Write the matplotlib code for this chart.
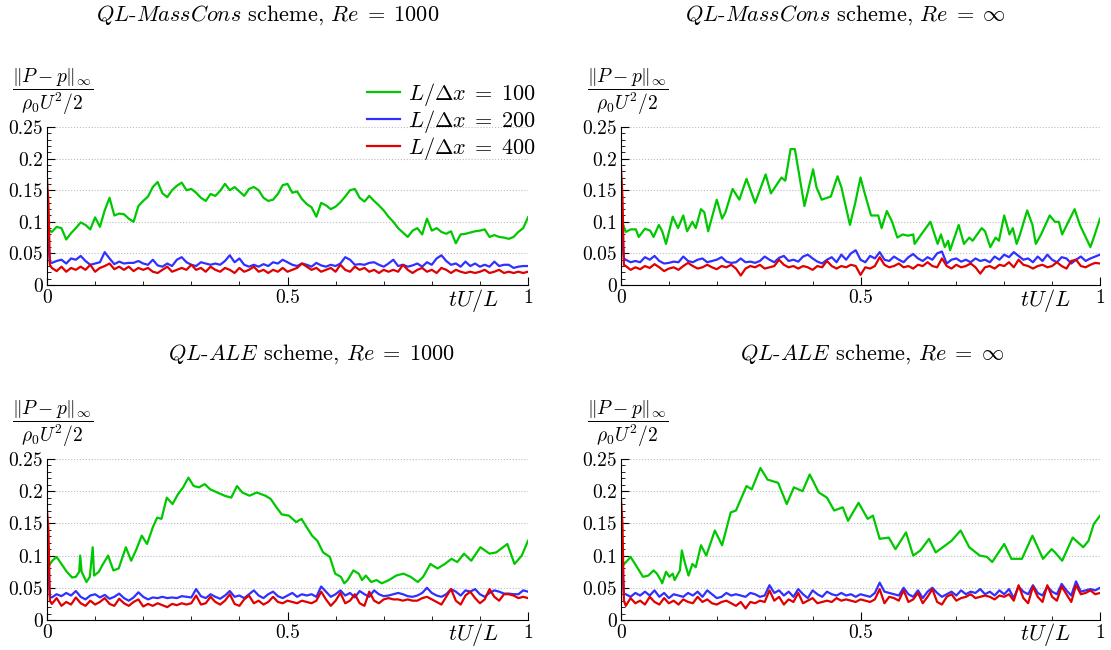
import matplotlib
matplotlib.use("Agg")
import matplotlib.pyplot as plt
from matplotlib.ticker import MultipleLocator, FixedLocator, FixedFormatter

plt.rcParams['mathtext.fontset'] = 'cm'
plt.rcParams['font.family'] = 'serif'
plt.rcParams['font.serif'] = ['cmr10', 'DejaVu Serif']
plt.rcParams['axes.unicode_minus'] = False
plt.rcParams['axes.formatter.use_mathtext'] = True

# sampling grid used for the fine (blue / red) traces, plus the start-up spike
t_start = [0.0, 0.003, 0.006]
t_grid = [0.01, 0.02, 0.03, 0.04, 0.05, 0.06, 0.07, 0.08, 0.09, 0.10,
          0.11, 0.12, 0.13, 0.14, 0.15, 0.16, 0.17, 0.18, 0.19, 0.20,
          0.21, 0.22, 0.23, 0.24, 0.25, 0.26, 0.27, 0.28, 0.29, 0.30,
          0.31, 0.32, 0.33, 0.34, 0.35, 0.36, 0.37, 0.38, 0.39, 0.40,
          0.41, 0.42, 0.43, 0.44, 0.45, 0.46, 0.47, 0.48, 0.49, 0.50,
          0.51, 0.52, 0.53, 0.54, 0.55, 0.56, 0.57, 0.58, 0.59, 0.60,
          0.61, 0.62, 0.63, 0.64, 0.65, 0.66, 0.67, 0.68, 0.69, 0.70,
          0.71, 0.72, 0.73, 0.74, 0.75, 0.76, 0.77, 0.78, 0.79, 0.80,
          0.81, 0.82, 0.83, 0.84, 0.85, 0.86, 0.87, 0.88, 0.89, 0.90,
          0.91, 0.92, 0.93, 0.94, 0.95, 0.96, 0.97, 0.98, 0.99, 1.00]

# ---- QL-MassCons, Re = 1000 ----
green_tl_start = [0.100, 0.088, 0.086]
green_tl = [0.084, 0.092, 0.090, 0.072, 0.082, 0.090, 0.099, 0.095, 0.088, 0.107,
            0.092, 0.118, 0.138, 0.110, 0.113, 0.112, 0.105, 0.100, 0.125, 0.133,
            0.140, 0.155, 0.163, 0.145, 0.139, 0.150, 0.157, 0.162, 0.150, 0.152,
            0.146, 0.138, 0.133, 0.144, 0.141, 0.149, 0.160, 0.150, 0.155, 0.148,
            0.141, 0.152, 0.155, 0.150, 0.138, 0.133, 0.135, 0.144, 0.158, 0.160,
            0.146, 0.148, 0.136, 0.128, 0.123, 0.108, 0.130, 0.126, 0.120, 0.124,
            0.131, 0.140, 0.150, 0.152, 0.138, 0.132, 0.141, 0.133, 0.126, 0.118,
            0.108, 0.100, 0.090, 0.083, 0.076, 0.086, 0.090, 0.080, 0.105, 0.086,
            0.090, 0.084, 0.081, 0.085, 0.066, 0.080, 0.081, 0.083, 0.085, 0.086,
            0.088, 0.076, 0.079, 0.076, 0.075, 0.073, 0.076, 0.084, 0.090, 0.107]
blue_tl_start = [0.090, 0.060, 0.036]
blue_tl = [0.035, 0.038, 0.040, 0.034, 0.042, 0.040, 0.046, 0.038, 0.032, 0.034,
           0.036, 0.052, 0.042, 0.033, 0.037, 0.034, 0.035, 0.035, 0.038, 0.034,
           0.032, 0.040, 0.031, 0.029, 0.034, 0.030, 0.040, 0.044, 0.036, 0.032,
           0.030, 0.036, 0.034, 0.032, 0.034, 0.032, 0.038, 0.047, 0.036, 0.042,
           0.032, 0.029, 0.032, 0.029, 0.033, 0.030, 0.036, 0.034, 0.040, 0.036,
           0.032, 0.030, 0.034, 0.032, 0.029, 0.035, 0.031, 0.029, 0.032, 0.030,
           0.034, 0.044, 0.040, 0.032, 0.033, 0.032, 0.035, 0.036, 0.032, 0.029,
           0.034, 0.040, 0.030, 0.032, 0.029, 0.031, 0.034, 0.029, 0.036, 0.032,
           0.042, 0.047, 0.038, 0.032, 0.034, 0.029, 0.037, 0.030, 0.034, 0.029,
           0.032, 0.029, 0.037, 0.030, 0.032, 0.032, 0.027, 0.029, 0.030, 0.030]
red_tl_start = [0.168, 0.130, 0.032]
red_tl = [0.027, 0.022, 0.029, 0.021, 0.027, 0.024, 0.029, 0.024, 0.032, 0.021,
          0.027, 0.030, 0.034, 0.025, 0.029, 0.024, 0.029, 0.022, 0.027, 0.024,
          0.027, 0.021, 0.019, 0.024, 0.029, 0.021, 0.024, 0.027, 0.024, 0.032,
          0.024, 0.027, 0.021, 0.029, 0.024, 0.021, 0.027, 0.024, 0.019, 0.027,
          0.021, 0.024, 0.029, 0.021, 0.024, 0.019, 0.024, 0.021, 0.027, 0.021,
          0.024, 0.027, 0.034, 0.029, 0.024, 0.027, 0.021, 0.024, 0.027, 0.021,
          0.032, 0.024, 0.021, 0.029, 0.024, 0.027, 0.021, 0.024, 0.019, 0.024,
          0.021, 0.024, 0.021, 0.032, 0.024, 0.019, 0.024, 0.027, 0.021, 0.024,
          0.019, 0.027, 0.024, 0.019, 0.024, 0.021, 0.019, 0.021, 0.019, 0.021,
          0.024, 0.019, 0.021, 0.024, 0.019, 0.021, 0.019, 0.021, 0.019, 0.021]

# ---- QL-MassCons, Re = inf ----
green_tr = [(0.000, 0.100), (0.002, 0.100), (0.010, 0.084), (0.020, 0.088), (0.031, 0.088),
            (0.037, 0.076), (0.050, 0.089), (0.061, 0.086), (0.068, 0.076), (0.079, 0.095),
            (0.086, 0.085), (0.094, 0.065), (0.108, 0.108), (0.119, 0.090), (0.130, 0.110),
            (0.138, 0.085), (0.149, 0.100), (0.156, 0.090), (0.167, 0.120), (0.174, 0.115),
            (0.182, 0.085), (0.200, 0.135), (0.211, 0.105), (0.218, 0.115), (0.233, 0.152),
            (0.247, 0.135), (0.262, 0.168), (0.280, 0.130), (0.302, 0.175), (0.313, 0.145),
            (0.335, 0.170), (0.343, 0.165), (0.354, 0.215), (0.363, 0.215), (0.383, 0.125),
            (0.401, 0.183), (0.408, 0.155), (0.419, 0.135), (0.438, 0.140), (0.452, 0.172),
            (0.460, 0.155), (0.478, 0.095), (0.489, 0.130), (0.500, 0.170), (0.507, 0.150),
            (0.522, 0.110), (0.537, 0.110), (0.544, 0.090), (0.555, 0.117), (0.566, 0.100),
            (0.577, 0.075), (0.588, 0.080), (0.599, 0.078), (0.610, 0.080), (0.613, 0.065),
            (0.624, 0.077), (0.646, 0.100), (0.661, 0.065), (0.668, 0.080), (0.676, 0.060),
            (0.683, 0.070), (0.687, 0.055), (0.705, 0.095), (0.716, 0.065), (0.727, 0.075),
            (0.734, 0.070), (0.753, 0.090), (0.760, 0.085), (0.771, 0.060), (0.782, 0.075),
            (0.789, 0.070), (0.800, 0.110), (0.811, 0.080), (0.818, 0.090), (0.826, 0.065),
            (0.833, 0.080), (0.848, 0.118), (0.859, 0.095), (0.866, 0.065), (0.877, 0.080),
            (0.895, 0.110), (0.906, 0.100), (0.914, 0.100), (0.921, 0.080), (0.947, 0.120),
            (0.958, 0.095), (0.980, 0.060), (0.987, 0.075), (1.000, 0.105)]
blue_tr_start = [0.105, 0.070, 0.042]
blue_tr = [0.040, 0.036, 0.038, 0.036, 0.044, 0.040, 0.046, 0.038, 0.034, 0.035,
           0.037, 0.036, 0.045, 0.038, 0.036, 0.040, 0.042, 0.036, 0.038, 0.040,
           0.044, 0.037, 0.035, 0.036, 0.042, 0.036, 0.037, 0.035, 0.038, 0.045,
           0.040, 0.036, 0.043, 0.046, 0.038, 0.040, 0.037, 0.045, 0.048, 0.042,
           0.037, 0.034, 0.040, 0.044, 0.036, 0.048, 0.040, 0.050, 0.055, 0.040,
           0.036, 0.046, 0.042, 0.052, 0.040, 0.038, 0.045, 0.040, 0.036, 0.044,
           0.049, 0.042, 0.038, 0.044, 0.040, 0.050, 0.053, 0.034, 0.040, 0.042,
           0.037, 0.040, 0.036, 0.042, 0.038, 0.040, 0.036, 0.045, 0.040, 0.048,
           0.044, 0.052, 0.046, 0.040, 0.042, 0.036, 0.045, 0.038, 0.048, 0.040,
           0.036, 0.044, 0.042, 0.034, 0.040, 0.045, 0.038, 0.042, 0.045, 0.048]
red_tr_start = [0.185, 0.140, 0.032]
red_tr = [0.030, 0.024, 0.028, 0.025, 0.030, 0.027, 0.033, 0.028, 0.022, 0.026,
          0.028, 0.024, 0.030, 0.035, 0.030, 0.026, 0.028, 0.032, 0.028, 0.025,
          0.030, 0.028, 0.032, 0.026, 0.015, 0.026, 0.030, 0.028, 0.032, 0.026,
          0.028, 0.030, 0.040, 0.032, 0.028, 0.030, 0.026, 0.030, 0.028, 0.024,
          0.030, 0.028, 0.038, 0.030, 0.026, 0.030, 0.028, 0.032, 0.030, 0.016,
          0.028, 0.026, 0.030, 0.044, 0.032, 0.028, 0.030, 0.034, 0.028, 0.030,
          0.026, 0.032, 0.030, 0.036, 0.030, 0.028, 0.042, 0.030, 0.026, 0.032,
          0.028, 0.030, 0.034, 0.028, 0.018, 0.028, 0.030, 0.026, 0.032, 0.030,
          0.036, 0.028, 0.040, 0.032, 0.030, 0.026, 0.030, 0.032, 0.028, 0.030,
          0.036, 0.030, 0.026, 0.038, 0.040, 0.030, 0.028, 0.032, 0.035, 0.034]

# ---- QL-ALE, Re = 1000 ----
green_bl = [(0.000, 0.100), (0.002, 0.082), (0.011, 0.092), (0.020, 0.098), (0.030, 0.087),
            (0.041, 0.075), (0.052, 0.066), (0.060, 0.067), (0.067, 0.075), (0.069, 0.100),
            (0.072, 0.075), (0.082, 0.059), (0.089, 0.067), (0.095, 0.113), (0.098, 0.069),
            (0.108, 0.075), (0.115, 0.085), (0.127, 0.100), (0.138, 0.077), (0.149, 0.080),
            (0.164, 0.113), (0.175, 0.092), (0.186, 0.110), (0.197, 0.131), (0.208, 0.118),
            (0.220, 0.144), (0.229, 0.159), (0.238, 0.157), (0.249, 0.190), (0.261, 0.180),
            (0.272, 0.195), (0.283, 0.206), (0.294, 0.221), (0.305, 0.208), (0.316, 0.206),
            (0.328, 0.211), (0.339, 0.203), (0.354, 0.198), (0.369, 0.193), (0.383, 0.190),
            (0.395, 0.208), (0.406, 0.198), (0.421, 0.193), (0.436, 0.198), (0.454, 0.193),
            (0.465, 0.188), (0.477, 0.175), (0.488, 0.164), (0.503, 0.162), (0.518, 0.152),
            (0.529, 0.157), (0.540, 0.144), (0.551, 0.131), (0.562, 0.123), (0.574, 0.105),
            (0.588, 0.098), (0.599, 0.072), (0.611, 0.067), (0.618, 0.057), (0.625, 0.062),
            (0.637, 0.077), (0.648, 0.072), (0.655, 0.062), (0.663, 0.069), (0.674, 0.059),
            (0.685, 0.062), (0.696, 0.057), (0.711, 0.062), (0.726, 0.069), (0.741, 0.072),
            (0.756, 0.067), (0.771, 0.059), (0.782, 0.067), (0.797, 0.087), (0.812, 0.080),
            (0.827, 0.087), (0.841, 0.095), (0.853, 0.090), (0.867, 0.103), (0.882, 0.092),
            (0.901, 0.113), (0.920, 0.103), (0.934, 0.105), (0.957, 0.118), (0.972, 0.087),
            (0.987, 0.100), (1.000, 0.123)]
blue_bl_start = [0.105, 0.070, 0.036]
blue_bl = [0.035, 0.040, 0.037, 0.042, 0.038, 0.045, 0.036, 0.032, 0.038, 0.040,
           0.035, 0.039, 0.033, 0.036, 0.041, 0.034, 0.030, 0.035, 0.043, 0.036,
           0.032, 0.035, 0.034, 0.036, 0.034, 0.035, 0.034, 0.037, 0.036, 0.035,
           0.048, 0.037, 0.034, 0.040, 0.036, 0.033, 0.038, 0.045, 0.036, 0.038,
           0.034, 0.040, 0.046, 0.038, 0.034, 0.040, 0.044, 0.037, 0.034, 0.038,
           0.042, 0.036, 0.040, 0.038, 0.040, 0.036, 0.052, 0.044, 0.036, 0.040,
           0.046, 0.038, 0.042, 0.035, 0.045, 0.040, 0.036, 0.046, 0.040, 0.037,
           0.038, 0.040, 0.042, 0.040, 0.037, 0.036, 0.038, 0.042, 0.050, 0.042,
           0.038, 0.036, 0.040, 0.048, 0.044, 0.038, 0.046, 0.044, 0.048, 0.040,
           0.036, 0.042, 0.046, 0.044, 0.041, 0.041, 0.040, 0.040, 0.046, 0.044]
red_bl_start = [0.170, 0.140, 0.030]
red_bl = [0.025, 0.034, 0.022, 0.028, 0.024, 0.035, 0.026, 0.022, 0.030, 0.024,
          0.028, 0.034, 0.025, 0.022, 0.033, 0.026, 0.022, 0.028, 0.032, 0.021,
          0.025, 0.022, 0.026, 0.023, 0.020, 0.025, 0.023, 0.026, 0.024, 0.026,
          0.038, 0.024, 0.026, 0.036, 0.028, 0.024, 0.030, 0.040, 0.025, 0.022,
          0.032, 0.038, 0.026, 0.030, 0.024, 0.028, 0.036, 0.028, 0.026, 0.030,
          0.028, 0.026, 0.030, 0.028, 0.026, 0.030, 0.044, 0.032, 0.022, 0.030,
          0.042, 0.026, 0.030, 0.040, 0.026, 0.022, 0.044, 0.030, 0.026, 0.032,
          0.034, 0.032, 0.032, 0.030, 0.032, 0.030, 0.030, 0.034, 0.036, 0.032,
          0.028, 0.024, 0.036, 0.048, 0.030, 0.024, 0.038, 0.044, 0.034, 0.026,
          0.032, 0.048, 0.036, 0.030, 0.040, 0.040, 0.038, 0.034, 0.036, 0.034]

# ---- QL-ALE, Re = inf ----
green_br = [(0.000, 0.100), (0.004, 0.085), (0.013, 0.092), (0.020, 0.098), (0.031, 0.085),
            (0.046, 0.067), (0.057, 0.069), (0.068, 0.077), (0.075, 0.072), (0.083, 0.062),
            (0.086, 0.057), (0.094, 0.075), (0.101, 0.067), (0.108, 0.072), (0.112, 0.062),
            (0.123, 0.077), (0.127, 0.108), (0.134, 0.087), (0.141, 0.069), (0.149, 0.087),
            (0.156, 0.082), (0.167, 0.116), (0.178, 0.100), (0.196, 0.139), (0.211, 0.116),
            (0.229, 0.167), (0.240, 0.170), (0.262, 0.208), (0.273, 0.203), (0.291, 0.236),
            (0.306, 0.218), (0.328, 0.213), (0.346, 0.180), (0.361, 0.206), (0.379, 0.200),
            (0.394, 0.226), (0.413, 0.198), (0.430, 0.190), (0.445, 0.170), (0.463, 0.175),
            (0.474, 0.154), (0.496, 0.182), (0.515, 0.157), (0.526, 0.162), (0.540, 0.126),
            (0.559, 0.128), (0.573, 0.110), (0.595, 0.136), (0.610, 0.100), (0.625, 0.108),
            (0.643, 0.126), (0.657, 0.105), (0.672, 0.113), (0.690, 0.123), (0.709, 0.139),
            (0.727, 0.113), (0.749, 0.100), (0.764, 0.098), (0.775, 0.090), (0.800, 0.118),
            (0.815, 0.095), (0.837, 0.095), (0.859, 0.131), (0.881, 0.095), (0.899, 0.110),
            (0.906, 0.105), (0.921, 0.092), (0.943, 0.128), (0.965, 0.113), (0.976, 0.123),
            (0.987, 0.149), (1.000, 0.162)]
blue_br_start = [0.110, 0.075, 0.040]
blue_br = [0.040, 0.036, 0.042, 0.038, 0.044, 0.038, 0.046, 0.036, 0.042, 0.034,
           0.040, 0.038, 0.036, 0.042, 0.038, 0.044, 0.036, 0.046, 0.040, 0.034,
           0.036, 0.042, 0.038, 0.040, 0.038, 0.036, 0.042, 0.040, 0.036, 0.038,
           0.054, 0.042, 0.046, 0.038, 0.044, 0.036, 0.048, 0.040, 0.034, 0.046,
           0.040, 0.036, 0.044, 0.040, 0.038, 0.042, 0.038, 0.040, 0.036, 0.040,
           0.038, 0.036, 0.042, 0.058, 0.044, 0.042, 0.040, 0.038, 0.050, 0.040,
           0.036, 0.046, 0.034, 0.044, 0.050, 0.042, 0.036, 0.040, 0.044, 0.038,
           0.046, 0.040, 0.044, 0.042, 0.048, 0.040, 0.044, 0.038, 0.046, 0.040,
           0.048, 0.034, 0.052, 0.044, 0.040, 0.054, 0.042, 0.038, 0.052, 0.044,
           0.040, 0.056, 0.046, 0.038, 0.060, 0.044, 0.046, 0.048, 0.046, 0.050]
red_br_start = [0.188, 0.150, 0.030]
red_br = [0.022, 0.034, 0.026, 0.030, 0.024, 0.036, 0.028, 0.024, 0.034, 0.026,
          0.030, 0.024, 0.032, 0.028, 0.026, 0.036, 0.028, 0.032, 0.026, 0.024,
          0.028, 0.030, 0.026, 0.022, 0.028, 0.018, 0.028, 0.026, 0.030, 0.028,
          0.046, 0.030, 0.036, 0.024, 0.032, 0.028, 0.042, 0.026, 0.030, 0.034,
          0.026, 0.028, 0.030, 0.028, 0.034, 0.030, 0.032, 0.030, 0.028, 0.032,
          0.030, 0.028, 0.032, 0.048, 0.026, 0.036, 0.034, 0.030, 0.046, 0.028,
          0.032, 0.042, 0.026, 0.036, 0.048, 0.028, 0.024, 0.036, 0.040, 0.030,
          0.034, 0.036, 0.040, 0.034, 0.036, 0.038, 0.036, 0.032, 0.038, 0.036,
          0.040, 0.030, 0.054, 0.034, 0.026, 0.052, 0.036, 0.028, 0.054, 0.036,
          0.030, 0.052, 0.040, 0.028, 0.054, 0.040, 0.042, 0.046, 0.040, 0.042]

labels = [r'$L/\Delta x\;=\;100$', r'$L/\Delta x\;=\;200$', r'$L/\Delta x\;=\;400$']
colors = ['#00c800', '#3030ff', '#e00000']

panels = [
    dict(rect=[47/1111, 1-285/650, 481/1111, 158/650],
         title=r'$QL$-$MassCons$ scheme, $Re\;=\;1000$', tpos=(268, 15),
         green=(t_start + t_grid, green_tl_start + green_tl),
         blue=(t_start + t_grid, blue_tl_start + blue_tl),
         red=(t_start + t_grid, red_tl_start + red_tl)),
    dict(rect=[621/1111, 1-285/650, 479/1111, 158/650],
         title=r'$QL$-$MassCons$ scheme, $Re\;=\;\infty$', tpos=(845, 15),
         green=tuple(list(c) for c in zip(*green_tr)),
         blue=(t_start + t_grid, blue_tr_start + blue_tr),
         red=(t_start + t_grid, red_tr_start + red_tr)),
    dict(rect=[47/1111, 1-620/650, 481/1111, 161/650],
         title=r'$QL$-$ALE$ scheme, $Re\;=\;1000$', tpos=(312, 354),
         green=tuple(list(c) for c in zip(*green_bl)),
         blue=(t_start + t_grid, blue_bl_start + blue_bl),
         red=(t_start + t_grid, red_bl_start + red_bl)),
    dict(rect=[621/1111, 1-620/650, 479/1111, 161/650],
         title=r'$QL$-$ALE$ scheme, $Re\;=\;\infty$', tpos=(872, 354),
         green=tuple(list(c) for c in zip(*green_br)),
         blue=(t_start + t_grid, blue_br_start + blue_br),
         red=(t_start + t_grid, red_br_start + red_br)),
]

fig = plt.figure(figsize=(11.11, 6.5), dpi=100)
axes = []
for p in panels:
    ax = fig.add_axes(p['rect'])
    for key, c, lab in zip(['green', 'blue', 'red'], colors, labels):
        t, v = p[key]
        ax.plot(t, v, color=c, lw=1.6, label=lab)
    ax.set_xlim(0, 1)
    ax.set_ylim(0, 0.25)
    ax.xaxis.set_major_locator(FixedLocator([0, 0.5, 1]))
    ax.xaxis.set_major_formatter(FixedFormatter(['0', '0.5', '1']))
    ax.yaxis.set_major_locator(FixedLocator([0, 0.05, 0.1, 0.15, 0.2, 0.25]))
    ax.yaxis.set_major_formatter(FixedFormatter(['0', '0.05', '0.1', '0.15', '0.2', '0.25']))
    ax.xaxis.set_minor_locator(MultipleLocator(0.1))
    ax.yaxis.set_minor_locator(MultipleLocator(0.01))
    ax.tick_params(which='both', direction='in', top=False, right=False, labelsize=14)
    ax.tick_params(which='major', length=6, pad=3)
    ax.tick_params(which='minor', length=3)
    ax.spines['top'].set_visible(False)
    ax.spines['right'].set_visible(False)
    ax.yaxis.grid(True, which='major', ls=':', color='#bbbbbb', lw=0.8)
    ax.set_axisbelow(True)
    fig.text(p['tpos'][0]/1111, 1 - p['tpos'][1]/650, p['title'],
             ha='center', va='center', fontsize=16)
    axes.append(ax)

# y-label fractions and x-labels
for x, y in [(53, 92), (628, 92), (53, 424), (628, 424)]:
    fig.text(x/1111, 1 - y/650, r'$\dfrac{\|P-p\|_\infty}{\rho_0 U^2/2}$',
             ha='center', va='center', fontsize=14)
for x, y in [(473, 301), (1045, 301), (473, 635), (1045, 635)]:
    fig.text(x/1111, 1 - y/650, r'$tU/L$', ha='center', va='center', fontsize=16)

axes[0].legend(loc='upper left', bbox_to_anchor=(356/1111, 1 - 70/650),
               bbox_transform=fig.transFigure, frameon=False, fontsize=16,
               handlelength=1.5, handletextpad=0.35, labelspacing=0.0,
               borderpad=0)

fig.savefig('out.png', dpi=100)
